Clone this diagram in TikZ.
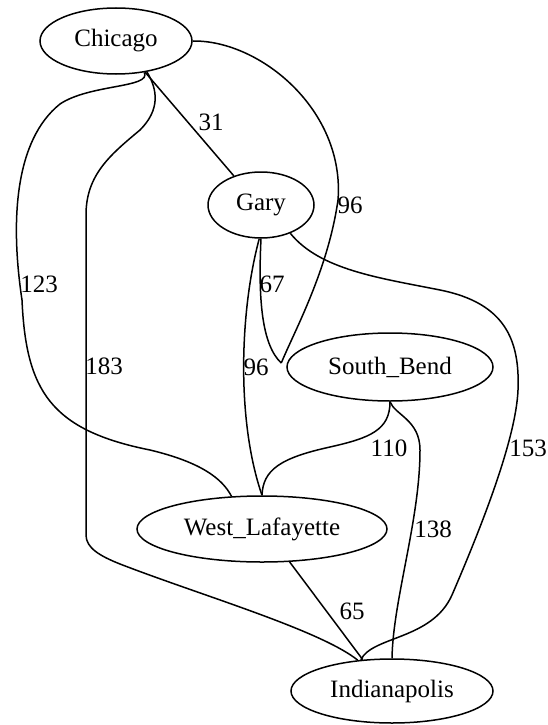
\documentclass[tikz,border=0pt]{standalone}
\usepackage{fontspec}
\setmainfont{Liberation Serif}
\usetikzlibrary{shapes.geometric}
\tikzset{
  city/.style={draw, ellipse, line width=1.5pt, inner sep=0pt, font=\fontsize{25}{30}\selectfont},
  wlabel/.style={inner sep=0pt, font=\fontsize{25}{30}\selectfont},
  road/.style={line width=1.5pt}
}
\begin{document}
\begin{tikzpicture}[x=1pt,y=-1pt]
\useasboundingbox (0,0) rectangle (548,725);
% nodes
\node[city, minimum width=152pt, minimum height=66pt] (chi) at (116,41) {Chicago};
\node[city, minimum width=106pt, minimum height=66pt] (gary) at (261,205) {Gary};
\node[city, minimum width=206pt, minimum height=68pt] (sb) at (390,367) {South\_Bend};
\node[city, minimum width=250pt, minimum height=66pt] (wl) at (262,529) {West\_Lafayette};
\node[city, minimum width=202pt, minimum height=64pt] (ind) at (392,691) {Indianapolis};
% edges
\draw[road] (chi.-47) -- (gary.133);
\draw[road] (chi.east) .. controls (260,40) and (345,110) .. (338,200)
  .. controls (328,270) and (295,330) .. ([xshift=-5pt,yshift=4pt]sb.west);
\draw[road] (gary.south) .. controls (258,300) and (262,345) .. ([xshift=-5pt,yshift=4pt]sb.west);
\draw[road] (gary.-93) .. controls (240,310) and (236,420) .. (wl.north);
\draw[road] (chi.-48) .. controls (152,88) and (90,84) .. (60,104)
  .. controls (15,140) and (10,220) .. (22,300)
  .. controls (26,390) and (50,430) .. (150,450)
  .. controls (200,462) and (222,478) .. (wl.133);
\draw[road] (chi.-45) .. controls (158,90) and (160,110) .. (140,130)
  .. controls (110,155) and (86,175) .. (86,215) -- (86,535)
  .. controls (86,548) and (100,556) .. (120,564)
  .. controls (200,595) and (320,630) .. (ind.138);
\draw[road] (gary.-44) .. controls (320,270) and (380,278) .. (440,290)
  .. controls (505,303) and (520,340) .. (518,390)
  .. controls (516,440) and (480,530) .. (452,595)
  .. controls (432,640) and (372,636) .. (ind.135);
\draw[road] (sb.south) .. controls (390,430) and (370,438) .. (330,447)
  .. controls (280,458) and (263,470) .. (wl.north);
\draw[road] (sb.south) .. controls (395,415) and (420,420) .. (420,450)
  .. controls (420,520) and (393,600) .. (ind.north);
\draw[road] (wl.-50) -- (ind.133);
% labels
\node[wlabel] (l31) at (211,122) {31};
\node[wlabel] (l96a) at (350,205) {96};
\node[wlabel] (l67) at (272,284) {67};
\node[wlabel] (l96b) at (256,367) {96};
\node[wlabel] (l123) at (39,284) {123};
\node[wlabel] (l183) at (104,366) {183};
\node[wlabel] (l110) at (389,448) {110};
\node[wlabel] (l153) at (528,448) {153};
\node[wlabel] (l138) at (433,529) {138};
\node[wlabel] (l65) at (352,611) {65};
\end{tikzpicture}
\end{document}
